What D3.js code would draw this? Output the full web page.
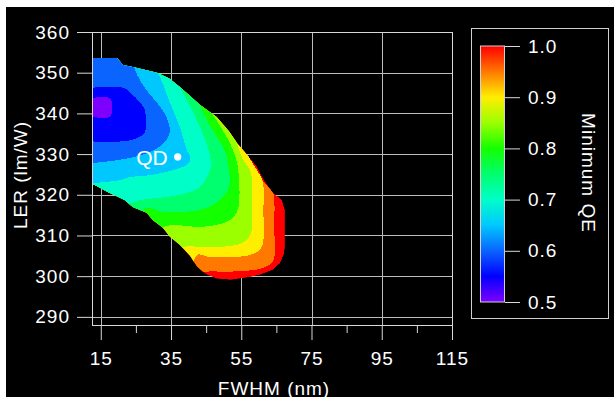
<!DOCTYPE html>
<html>
<head>
<meta charset="utf-8">
<script src="https://cdn.jsdelivr.net/npm/d3@7"></script>
<style>
  html, body { margin: 0; padding: 0; background: #fff; }
  svg text { font-family: "Liberation Sans", Arial, Helvetica, sans-serif; fill: #fff; }
</style>
</head>
<body>
<svg id="chart" width="614" height="397"></svg>
<script>
// axis ticks
var fwhmTicks = [15, 35, 55, 75, 95, 115];
var fwhmMinor = [25, 45, 65, 85, 105];
var lerTicks = [290, 300, 310, 320, 330, 340, 350, 360];
var qeTicks = [0.5, 0.6, 0.7, 0.8, 0.9, 1.0];

// min QE steps (one colour band each)
var qeLevels = [0.5, 0.55, 0.6, 0.65, 0.7, 0.75, 0.8, 0.85, 0.9, 0.95, 1.0];
var qeColors = ["#7d00ff", "#0000ff", "#0a64ff", "#00c8ff", "#00ffc8", "#00ff6e",
                "#14ff00", "#9bff00", "#ffee00", "#ff7800", "#ff0000"];

// edge of the area where a QE <= 1 is enough, [FWHM, LER]
var regionEdge = [[12.5,353.6],[19.6,353.6],[21.3,351.9],[25.0,351.2],[31.0,350.0],[34.5,348.6],
  [37.5,346.5],[40.5,344.2],[43.2,342.1],[48.0,339.1],[51.5,335.6],[54.0,332.5],[57.0,329.5],
  [59.4,327.0],[61.5,323.5],[64.0,320.5],[66.5,318.8],[67.4,316.3],[67.4,307.2],[67.2,305.5],
  [66.0,303.2],[64.0,301.6],[60.5,300.4],[57.5,299.8],[52.0,299.1],[48.0,299.4],[45.5,300.3],
  [44.3,300.9],[42.4,302.4],[40.4,305.0],[37.5,307.7],[34.7,309.7],[32.7,311.9],[29.8,313.8],
  [28.1,315.6],[24.1,317.0],[21.8,318.7],[17.0,320.7],[13.3,322.4],[12.5,322.7]];

// outlines of the area where min QE <= level
var qeUpTo050 = [[12.5,343.8],[17.6,343.8],[18.1,342.8],[18.1,340.1],[17.6,339.1],[12.5,339.1]];
var qeUpTo055 = [[12.5,346.3],[21.5,346.3],[23.5,345.0],[26.1,342.8],[27.5,340.9],[27.9,338.0],
  [27.5,335.3],[24.7,333.7],[20.7,333.1],[12.5,333.1]];
var qeUpTo060 = [[23.5,354.1],[25.5,349.2],[28.4,345.3],[31.8,341.8],[33.8,338.9],[34.7,335.9],
  [33.8,333.5],[31.2,331.5],[27.5,330.0],[21.8,328.8],[16.1,328.1],[12.5,327.8]];
var qeUpTo065 = [[30.4,350.7],[31.8,349.0],[34.7,342.6],[37.5,336.7],[39.5,331.0],[40.5,329.0],
  [39.8,327.5],[37.5,326.6],[32.7,325.4],[27.0,324.6],[23.3,324.4],[20.4,323.6],[14.7,323.0],[12.5,322.8]];
var qeUpTo070 = [[36.5,348.2],[38.4,345.0],[40.9,340.9],[43.2,336.7],[45.5,331.5],[46.4,328.0],
  [46.1,326.1],[43.2,321.9],[37.5,320.0],[31.0,319.2],[26.1,318.7],[22.5,317.5]];
var qeUpTo075 = [[42.6,343.0],[44.0,340.5],[46.0,337.2],[48.6,333.5],[50.3,331.0],[51.5,326.0],
  [51.6,322.0],[48.9,318.7],[45.2,316.8],[39.5,315.8],[32.7,315.8],[28.1,316.8],[26.5,315.8]];
var qeUpTo080 = [[46.0,341.0],[48.5,337.5],[51.0,334.0],[52.6,331.0],[54.0,326.9],[54.0,316.3],
  [51.8,313.8],[48.0,312.6],[42.4,312.1],[35.5,312.6],[31.0,311.5]];
var qeUpTo085 = [[53.5,333.5],[55.5,328.6],[57.2,326.5],[58.0,324.4],[58.0,316.0],[58.0,311.4],
  [56.6,308.9],[53.7,307.7],[48.9,307.2],[42.4,307.2],[39.5,307.4],[37.5,306.5]];
var qeUpTo090 = [[54.6,332.8],[56.9,329.8],[58.3,327.6],[60.2,325.0],[61.2,322.9],[61.3,316.0],
  [61.2,308.2],[60.3,306.5],[57.5,305.2],[51.8,304.7],[46.1,304.7],[42.5,305.3],[41.2,303.0]];
var qeUpTo095 = [[55.5,331.5],[58.3,327.1],[60.2,324.6],[62.2,322.3],[64.0,320.6],[64.4,318.7],
  [64.4,312.0],[64.3,304.2],[63.2,302.9],[59.4,301.6],[55.0,301.3],[51.8,301.1],[45.2,301.1],[43.0,300.6]];

// quantum dot reference point [FWHM, LER]
var qdPoint = [36.9, 329.3];

var svg = d3.select("#chart");
svg.append("rect").attr("x", 6).attr("y", 7).attr("width", 608).attr("height", 390).attr("fill", "#000");

var x = d3.scaleLinear().domain([12.5, 115]).range([92, 452]);
var y = d3.scaleLinear().domain([288, 360]).range([325, 32]);
var color = d3.scaleLinear().domain(qeLevels).range(qeColors);
var line = d3.line().x(d => x(d[0])).y(d => y(d[1]));
var smooth = d3.line().x(d => x(d[0])).y(d => y(d[1])).curve(d3.curveCatmullRom.alpha(0.5));
var px = v => Math.round(v) + 0.5;

// grid lines
var grid = svg.append("g").attr("stroke", "#bcbcbc").attr("stroke-width", 1);
grid.selectAll(".gh").data(lerTicks).enter().append("line")
  .attr("x1", x.range()[0]).attr("x2", x.range()[1])
  .attr("y1", d => px(y(d))).attr("y2", d => px(y(d)));
grid.selectAll(".gv").data(fwhmTicks).enter().append("line")
  .attr("y1", y.range()[0]).attr("y2", y.range()[1])
  .attr("x1", d => px(x(d))).attr("x2", d => px(x(d)));

// contour bands
svg.append("clipPath").attr("id", "region").append("path").attr("d", line(regionEdge) + "Z");
var bands = svg.append("g").attr("clip-path", "url(#region)").attr("shape-rendering", "crispEdges");
bands.append("path").attr("d", line(regionEdge) + "Z").attr("fill", color(1.0));

var outlines = [[0.95, qeUpTo095], [0.9, qeUpTo090], [0.85, qeUpTo085], [0.8, qeUpTo080],
  [0.75, qeUpTo075], [0.7, qeUpTo070], [0.65, qeUpTo065], [0.6, qeUpTo060],
  [0.55, qeUpTo055], [0.5, qeUpTo050]];
outlines.forEach(function(o) {
  var pts = o[1];
  // smooth contour, then close it round the upper left, outside the region
  var d = "M" + x(pts[0][0]) + "," + y(y.domain()[1]) + "L" + smooth(pts).slice(1)
    + "L" + x(x.domain()[0]) + "," + y(y.domain()[0])
    + "L" + x(x.domain()[0]) + "," + y(y.domain()[1]) + "Z";
  bands.append("path").attr("d", d).attr("fill", color(o[0]));
});

// frame
svg.append("rect").attr("x", px(x.range()[0])).attr("y", px(y.range()[1]))
  .attr("width", Math.round(x.range()[1] - x.range()[0])).attr("height", Math.round(y.range()[0] - y.range()[1]))
  .attr("fill", "none").attr("stroke", "#d8d8d8");

// QD marker
svg.append("circle").attr("cx", x(qdPoint[0])).attr("cy", y(qdPoint[1])).attr("r", 3.6).attr("fill", "#fff");
svg.append("text").attr("x", x(qdPoint[0]) - 10).attr("y", y(qdPoint[1]) + 8.5)
  .attr("text-anchor", "end").attr("font-size", 21).text("QD");

// axes
function styleAxis(g) {
  g.select(".domain").remove();
  g.attr("font-family", null).attr("font-size", 19);
  g.selectAll("line").attr("stroke", "#d8d8d8");
  g.selectAll("text").attr("fill", "#fff").style("letter-spacing", "1px");
}
svg.append("g").attr("transform", "translate(92,0)")
  .call(d3.axisLeft(y).tickValues(lerTicks).tickSize(15).tickPadding(7))
  .call(styleAxis);
svg.append("g").attr("transform", "translate(0,325)")
  .call(d3.axisBottom(x).tickValues(fwhmTicks).tickSize(15).tickPadding(12))
  .call(styleAxis);
svg.append("g").attr("transform", "translate(0,325)")
  .call(d3.axisBottom(x).tickValues(fwhmMinor).tickSize(8).tickFormat(""))
  .call(styleAxis);

svg.append("text").attr("x", 274).attr("y", 395).attr("text-anchor", "middle")
  .attr("font-size", 19).style("letter-spacing", "1px").text("FWHM (nm)");
svg.append("text").attr("transform", "translate(27,175) rotate(-90)").attr("text-anchor", "middle")
  .attr("font-size", 19).style("letter-spacing", "1px").text("LER (lm/W)");

// colour bar
var cb = d3.scaleLinear().domain([0.5, 1.0]).range([302, 46]);
var grad = svg.append("defs").append("linearGradient").attr("id", "qeGrad")
  .attr("x1", 0).attr("y1", 1).attr("x2", 0).attr("y2", 0);
grad.selectAll("stop").data(qeLevels).enter().append("stop")
  .attr("offset", d => (d - 0.5) / 0.5).attr("stop-color", d => color(d));

svg.append("rect").attr("x", 471.5).attr("y", 28.5).attr("width", 137).attr("height", 290)
  .attr("fill", "none").attr("stroke", "#d0d0d0");
svg.append("rect").attr("x", 480.5).attr("y", cb(1.0)).attr("width", 24).attr("height", cb(0.5) - cb(1.0))
  .attr("fill", "url(#qeGrad)").attr("stroke", "#d0d0d0");
svg.append("g").attr("transform", "translate(505,0)")
  .call(d3.axisRight(cb).tickValues(qeTicks).tickSize(15).tickPadding(8).tickFormat(d3.format(".1f")))
  .call(styleAxis);
svg.append("text").attr("transform", "translate(582,173) rotate(90)").attr("text-anchor", "middle")
  .attr("font-size", 19).style("letter-spacing", "1px").text("Minimum QE");
</script>
</body>
</html>
